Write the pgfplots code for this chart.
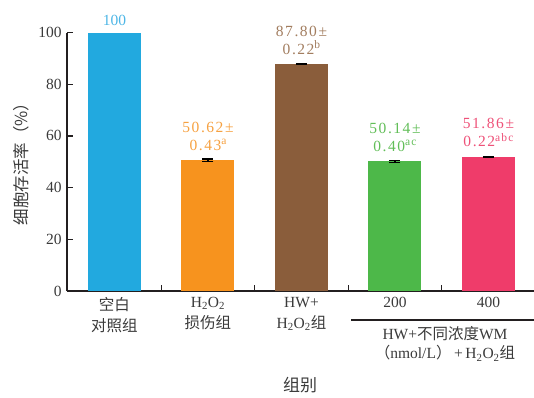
\documentclass[border=0pt]{standalone}
\usepackage{fontspec}
\setmainfont{Liberation Serif}
\newfontfamily\spaced[LetterSpace=10]{Liberation Serif}
\newfontfamily\cjk{Noto Sans CJK SC}
\usepackage{pgfplots}
\pgfplotsset{compat=1.18}

\definecolor{txt}{HTML}{3A3A3A}
\definecolor{axc}{HTML}{231F20}
\definecolor{cblue}{HTML}{22A9DF}
\definecolor{corange}{HTML}{F7931E}
\definecolor{cbrown}{HTML}{8A5D3B}
\definecolor{cgreen}{HTML}{4DB849}
\definecolor{cpink}{HTML}{EF3C6A}
\definecolor{lblue}{HTML}{4DB6E6}
\definecolor{lorange}{HTML}{F6A141}
\definecolor{lbrown}{HTML}{A27D5F}
\definecolor{lgreen}{HTML}{62BE58}
\definecolor{lpink}{HTML}{EE5279}

% significance letters
\newcommand{\sig}[1]{\raisebox{0.8ex}{\fontsize{11.5}{12}\selectfont #1}}

\begin{document}
\fontsize{15.5}{18}\selectfont
\begin{tikzpicture}[x=1pt,y=1pt]
\useasboundingbox (0,0) rectangle (534,397);
\begin{axis}[
  at={(67pt,106pt)}, anchor=south west,
  scale only axis, width=467pt, height=258.5pt,
  xmin=-0.508, xmax=4.487, ymin=0, ymax=100,
  axis x line*=bottom, axis y line*=left,
  axis line style={axc, line width=1.2pt},
  every tick/.style={axc, line width=1.2pt},
  tick align=inside,
  major tick length=6pt, minor tick length=6pt,
  ytick={0,20,...,100},
  xtick={0,1,2,3,4},
  major x tick style={draw=none},
  minor xtick={0.5,1.5,2.5,3.5},
  xticklabels={
    {{\cjk 空白}\\{\cjk 对照组}},
    {H\textsubscript{2}O\textsubscript{2}\\{\cjk 损伤组}},
    {HW+\\H\textsubscript{2}O\textsubscript{2}{\cjk 组}},
    200, 400},
  x tick label style={align=center, text=txt, yshift=-1pt,
    font=\fontsize{15.5}{21}\selectfont},
  y tick label style={text=txt, font=\fontsize{15.5}{18}\selectfont},
  /pgf/number format/assume math mode=true,
  clip=false,
]
\addplot[ybar, bar width=53pt, bar shift=0pt, fill=cblue, draw=none]
  coordinates {(0,100)};
\addplot[ybar, bar width=53pt, bar shift=0pt, fill=corange, draw=none,
  error bars/.cd, y dir=both, y explicit,
  error bar style={black, line width=1.3pt},
  error mark options={rotate=90, mark size=5.5pt, line width=1.3pt, black}]
  coordinates {(1,50.62) +- (0,0.43)};
\addplot[ybar, bar width=53pt, bar shift=0pt, fill=cbrown, draw=none,
  error bars/.cd, y dir=both, y explicit,
  error bar style={black, line width=1.3pt},
  error mark options={rotate=90, mark size=5.5pt, line width=1.3pt, black}]
  coordinates {(2,87.80) +- (0,0.22)};
\addplot[ybar, bar width=53pt, bar shift=0pt, fill=cgreen, draw=none,
  error bars/.cd, y dir=both, y explicit,
  error bar style={black, line width=1.3pt},
  error mark options={rotate=90, mark size=5.5pt, line width=1.3pt, black}]
  coordinates {(3,50.14) +- (0,0.40)};
\addplot[ybar, bar width=53pt, bar shift=0pt, fill=cpink, draw=none,
  error bars/.cd, y dir=both, y explicit,
  error bar style={black, line width=1.3pt},
  error mark options={rotate=90, mark size=5.5pt, line width=1.3pt, black}]
  coordinates {(4,51.86) +- (0,0.22)};

% value labels above the bars
\node[text=lblue, yshift=12pt, font=\fontsize{15.5}{18}\selectfont] at (axis cs:0,100) {100};
\begin{scope}[every node/.style={align=center, yshift=24pt,
    font=\fontsize{15.5}{18}\selectfont\spaced}]
\node[text=lorange] at (axis cs:1,50.62) {50.62±\\0.43\sig{a}};
\node[text=lbrown]  at (axis cs:2,87.80) {87.80±\\0.22\sig{b}};
\node[text=lgreen]  at (axis cs:3,50.14) {50.14±\\0.40\sig{ac}};
\node[text=lpink]   at (axis cs:4,51.86) {51.86±\\0.22\sig{abc}};
\end{scope}
\end{axis}

% group bracket below the two WM categories
\draw[axc, line width=1.1pt] (351,77) -- (534,77);
\node[align=center, text=txt, font=\fontsize{15.5}{19}\selectfont] at (445,53)
  {HW+{\cjk 不同浓度}WM\\{\cjk （}nmol/L{\cjk ）}\,+\,H\textsubscript{2}O\textsubscript{2}{\cjk 组}};

% axis titles
\node[text=txt, font=\fontsize{17}{19}\selectfont\cjk] at (300,12) {组别};
\node[text=txt, rotate=90, font=\fontsize{16.5}{18}\selectfont\cjk] at (21,237) {细胞存活率（\%）};
\end{tikzpicture}
\end{document}
